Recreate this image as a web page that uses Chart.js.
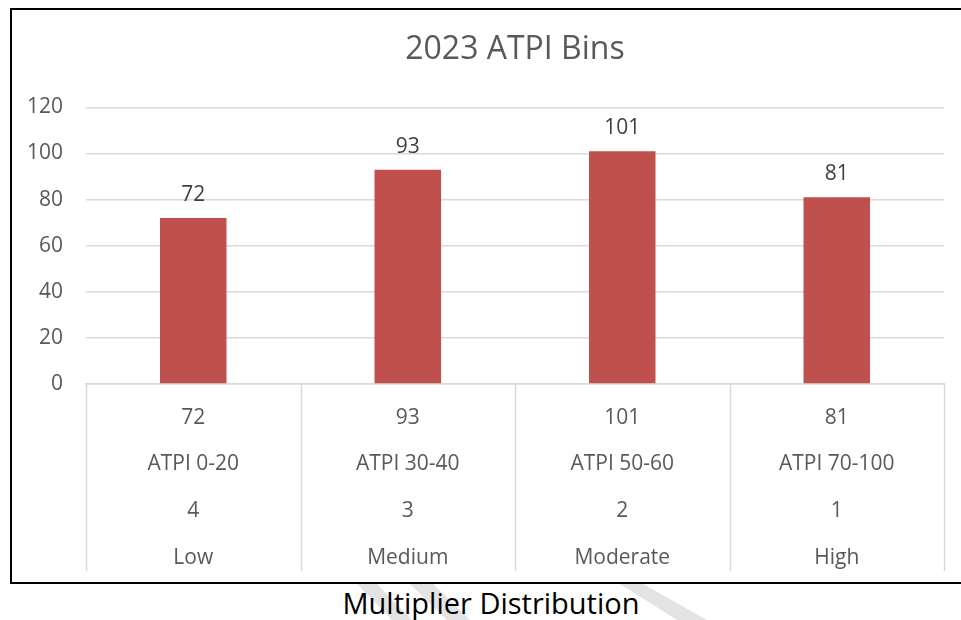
<!DOCTYPE html>
<html>
<head>
<meta charset="utf-8">
<script src="https://cdn.jsdelivr.net/npm/chart.js@4"></script>
<style>
  body { margin: 0; background: #fff; font-family: "Open Sans", sans-serif; }
  #box {
    position: absolute; left: 10px; top: 8px; width: 951px; height: 572px;
    border-top: 2px solid #000; border-left: 2px solid #000; border-bottom: 2px solid #000;
  }
  #caption {
    position: absolute; left: 0; top: 583px; width: 982px; text-align: center;
    font-size: 29px; color: #000; z-index: 2;
  }
  #stripes { position: absolute; left: 0; top: 584px; z-index: 1; }
</style>
</head>
<body>
<svg id="stripes" width="961" height="36">
  <polygon points="357,0 377,0 412,36 392,36" fill="#e3e3e3" />
  <polygon points="410,0 433,0 470,36 447,36" fill="#e3e3e3" />
  <polygon points="620,0 643,0 707,36 677,36" fill="#e3e3e3" />
</svg>
<div id="box"><canvas id="chart"></canvas></div>
<div id="caption">Multiplier Distribution</div>
<script>
// Дані
const counts = [72, 93, 101, 81];
const ranges = ["ATPI 0-20", "ATPI 30-40", "ATPI 50-60", "ATPI 70-100"];
const multipliers = ["4", "3", "2", "1"];
const levels = ["Low", "Medium", "Moderate", "High"];

const labels = counts.map((c, i) => [String(c), ranges[i], multipliers[i], levels[i]]);

// підписи над стовпцями
const barValues = {
  id: "barValues",
  afterDatasetsDraw(chart) {
    const ctx = chart.ctx;
    const meta = chart.getDatasetMeta(0);
    ctx.save();
    ctx.font = '21px "Open Sans"';
    ctx.fillStyle = "#404040";
    ctx.textAlign = "center";
    ctx.textBaseline = "middle";
    meta.data.forEach((bar, i) => {
      ctx.fillText(String(counts[i]), bar.x, bar.y - 23);
    });
    ctx.restore();
  },
};

// роздільники між категоріями під віссю
const separators = {
  id: "separators",
  afterDraw(chart) {
    const ctx = chart.ctx;
    const xs = chart.scales.x;
    const area = chart.chartArea;
    const n = counts.length;
    const step = (xs.right - xs.left) / n;
    ctx.save();
    ctx.strokeStyle = "#d9d9d9";
    ctx.lineWidth = 1.5;
    for (let i = 0; i <= n; i++) {
      const x = Math.round(xs.left + i * step) + 0.5;
      ctx.beginPath();
      ctx.moveTo(x, area.bottom);
      ctx.lineTo(x, area.bottom + 187);
      ctx.stroke();
    }
    ctx.restore();
  },
};

const place = document.getElementById("chart");
new Chart(place, {
  type: "bar",
  data: {
    labels: labels,
    datasets: [
      {
        data: counts,
        backgroundColor: "#c0504d",
        barPercentage: 0.31,
        categoryPercentage: 1,
      },
    ],
  },
  options: {
    responsive: true,
    maintainAspectRatio: false,
    animation: false,
    layout: { padding: { left: 0, right: 19, top: 0, bottom: 3 } },
    plugins: {
      legend: { display: false },
      tooltip: { enabled: false },
      title: {
        display: true,
        text: "2023 ATPI Bins",
        fullSize: false,
        color: "#595959",
        font: { family: "Open Sans", size: 32, weight: "normal", lineHeight: 1.2 },
        padding: { top: 21, bottom: 38 },
      },
    },
    scales: {
      x: {
        grid: { display: false },
        border: { display: true, color: "#d9d9d9", width: 1.5 },
        afterFit(scale) {
          scale.height = 195;
        },
        ticks: {
          color: "#595959",
          font: { family: "Open Sans", size: 21, lineHeight: 2.22 },
          padding: 2.5,
          maxRotation: 0,
          autoSkip: false,
        },
      },
      y: {
        min: 0,
        max: 120,
        grid: { color: "#d9d9d9", drawTicks: false, lineWidth: 1.5 },
        border: { display: false },
        afterFit(scale) {
          scale.width = 74;
        },
        ticks: {
          stepSize: 20,
          color: "#595959",
          font: { family: "Open Sans", size: 21 },
          padding: 23,
        },
      },
    },
  },
  plugins: [barValues, separators],
});
</script>
</body>
</html>
